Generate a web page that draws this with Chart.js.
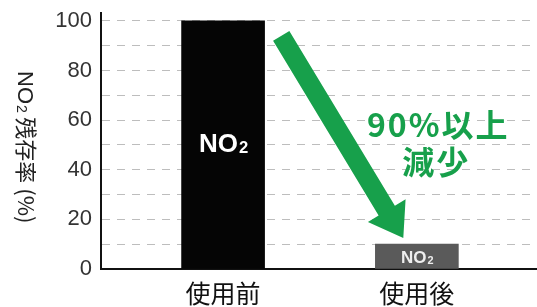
<!DOCTYPE html>
<html>
<head>
<meta charset="utf-8">
<script src="https://cdn.jsdelivr.net/npm/chart.js@4"></script>
<style>
  html, body { margin: 0; padding: 0; background: #fff; }
  #wrap { width: 537px; height: 307px; }
</style>
</head>
<body>
<div id="wrap"><canvas id="myChart" width="537" height="307"></canvas></div>
<script>
// Данни за графиката
const categories = ['使用前', '使用後'];
const values = [100, 10];
const barColors = ['#050505', '#5a5a5a'];
const yGridValues = [0, 10, 20, 30, 40, 50, 60, 70, 80, 90, 100];
const yTickLabels = [0, 20, 40, 60, 80, 100];
// Надписите "NO2" се рисуват на части: основа + долен индекс
const formula = ['NO', '2'];
const yTitleRest = ' 残存率 (%)';
const noteLines = ['90%以上', '減少'];

const green = '#17a04b';
const numFont = "'Liberation Sans', Arial, sans-serif";
const jpFont = "'Noto Sans CJK JP', sans-serif";

// Стрелката и надписът са в координати на данните (x = индекс на категория, y = %)
const arrowFrom = { x: 0.30, y: 94 };
const arrowTo = { x: 0.93, y: 12.5 };
const notePos = [{ x: 1.105, y: 58 }, { x: 1.095, y: 43 }];

// Рисува "NO" + малко "2", центрирано около (cx, cy)
function drawFormula(ctx, cx, cy, size, family, weight) {
    const subSize = size * 0.64;
    ctx.font = `${weight} ${size}px ${family}`;
    const wMain = ctx.measureText(formula[0]).width;
    ctx.font = `${weight} ${subSize}px ${family}`;
    const wSub = ctx.measureText(formula[1]).width;
    const x0 = cx - (wMain + wSub) / 2;
    const base = cy + size * 0.36;
    ctx.textAlign = 'left';
    ctx.textBaseline = 'alphabetic';
    ctx.font = `${weight} ${size}px ${family}`;
    ctx.fillText(formula[0], x0, base);
    ctx.font = `${weight} ${subSize}px ${family}`;
    ctx.fillText(formula[1], x0 + wMain + 1, base + size * 0.04);
}

// Плъгин за надписите върху стълбовете, стрелката и заглавието на Y оста
const decorations = {
    id: 'decorations',
    afterDatasetsDraw(chart) {
        const ctx = chart.ctx;
        const xs = chart.scales.x;
        const ys = chart.scales.y;
        const meta = chart.getDatasetMeta(0);

        // Надписи NO2 в стълбовете
        ctx.save();
        meta.data.forEach((bar, i) => {
            const size = i === 0 ? 26 : 17;
            ctx.fillStyle = i === 0 ? '#fff' : '#eee';
            drawFormula(ctx, bar.x, (bar.y + bar.base) / 2 - (i === 0 ? 2 : -1), size, numFont, 'bold');
        });
        ctx.restore();

        // Зелена стрелка
        const x1 = xs.getPixelForValue(arrowFrom.x), y1 = ys.getPixelForValue(arrowFrom.y);
        const x2 = xs.getPixelForValue(arrowTo.x), y2 = ys.getPixelForValue(arrowTo.y);
        const len = Math.hypot(x2 - x1, y2 - y1);
        const dx = (x2 - x1) / len, dy = (y2 - y1) / len;
        const nx = -dy, ny = dx;
        const w = 9.5, head = 32, hw = 22;
        const bx = x2 - dx * head, by = y2 - dy * head;
        ctx.save();
        ctx.fillStyle = green;
        ctx.beginPath();
        ctx.moveTo(x1 + nx * w, y1 + ny * w);
        ctx.lineTo(bx + nx * w, by + ny * w);
        ctx.lineTo(bx + nx * hw, by + ny * hw);
        ctx.lineTo(x2, y2);
        ctx.lineTo(bx - nx * hw, by - ny * hw);
        ctx.lineTo(bx - nx * w, by - ny * w);
        ctx.lineTo(x1 - nx * w, y1 - ny * w);
        ctx.closePath();
        ctx.fill();

        // Надпис "90%以上 減少"
        ctx.textAlign = 'center';
        ctx.textBaseline = 'middle';
        ctx.font = `bold 32px ${jpFont}`;
        ctx.letterSpacing = '2px';
        noteLines.forEach((t, i) => {
            ctx.fillText(t, xs.getPixelForValue(notePos[i].x) + 1, ys.getPixelForValue(notePos[i].y));
        });
        ctx.restore();

        // Заглавие на Y оста, завъртяно по часовниковата стрелка
        const tSize = 22;
        ctx.save();
        ctx.fillStyle = '#222';
        ctx.font = `${tSize}px ${numFont}`;
        const wF = ctx.measureText(formula[0]).width + ctx.measureText(formula[1]).width * 0.64 + 1;
        ctx.font = `${tSize}px ${jpFont}`;
        const wR = ctx.measureText(yTitleRest).width;
        ctx.translate(26, (ys.getPixelForValue(0) + ys.getPixelForValue(100)) / 2 + 2);
        ctx.rotate(Math.PI / 2);
        const start = -(wF + wR) / 2;
        drawFormula(ctx, start + wF / 2, 0, tSize, numFont, 'normal');
        ctx.font = `${tSize}px ${jpFont}`;
        ctx.textAlign = 'left';
        ctx.textBaseline = 'middle';
        ctx.fillText(yTitleRest, start + wF, 0);
        ctx.restore();
    }
};

new Chart(document.getElementById('myChart'), {
    type: 'bar',
    data: {
        datasets: [{
            data: categories.map((c, i) => ({ x: i, y: values[i] })),
            backgroundColor: barColors,
            borderWidth: 0,
            barThickness: 83
        }]
    },
    options: {
        responsive: false,
        animation: false,
        layout: { padding: { top: 13, right: 0, left: 0, bottom: 0 } },
        plugins: {
            legend: { display: false },
            tooltip: { enabled: false }
        },
        scales: {
            x: {
                type: 'linear',
                min: -0.63,
                max: 1.62,
                offset: false,
                afterBuildTicks: scale => {
                    scale.ticks = categories.map((c, i) => ({ value: i }));
                },
                afterFit: scale => {
                    scale.height = 38;
                    scale.paddingLeft = 0;
                    scale.paddingRight = 0;
                },
                ticks: {
                    callback: v => categories[v],
                    color: '#111',
                    padding: 9,
                    maxRotation: 0,
                    autoSkip: false,
                    font: { family: jpFont, size: 25 }
                },
                grid: { display: false, drawTicks: false },
                border: { display: true, color: '#111', width: 2 }
            },
            y: {
                min: 0,
                max: 103.2,
                afterBuildTicks: scale => {
                    scale.ticks = yGridValues.map(v => ({ value: v }));
                },
                afterFit: scale => {
                    scale.width = 101;
                    scale.paddingTop = 0;
                    scale.paddingBottom = 0;
                },
                ticks: {
                    autoSkip: false,
                    padding: 9,
                    color: '#333',
                    font: { family: numFont, size: 22 },
                    callback: v => yTickLabels.includes(v) ? String(v) : ''
                },
                grid: {
                    color: '#bdbdbd',
                    lineWidth: 1,
                    drawTicks: false
                },
                border: { display: true, color: '#111', width: 2, dash: [8, 7] }
            }
        }
    },
    plugins: [decorations]
});
</script>
</body>
</html>
